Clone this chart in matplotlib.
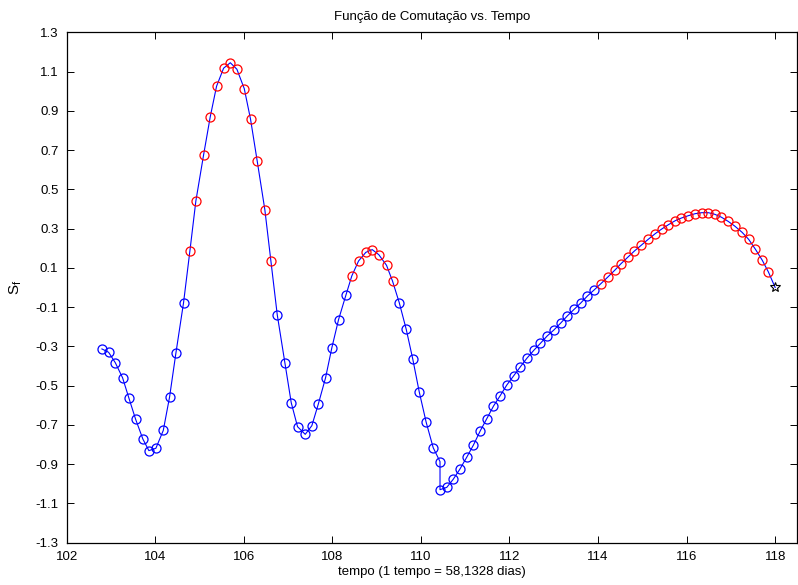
import numpy as np
import matplotlib
matplotlib.use("Agg")
import matplotlib.pyplot as plt

plt.rcParams["font.family"] = ["Liberation Sans", "DejaVu Sans"]

# switching function samples S_f(t)
tempo = [
    102.795, 102.946, 103.097, 103.262, 103.404, 103.556, 103.720, 103.856,
    104.014, 104.181, 104.323, 104.466, 104.639, 104.782, 104.917, 105.091,
    105.242, 105.384, 105.543, 105.694, 105.843, 106.010, 106.152, 106.303,
    106.475, 106.611, 106.755, 106.927, 107.071, 107.213, 107.387, 107.536,
    107.681, 107.846, 107.988, 108.139, 108.304, 108.439, 108.591, 108.755,
    108.900, 109.049, 109.223, 109.358, 109.510, 109.668, 109.817, 109.961,
    110.119, 110.277, 110.431, 110.431, 110.584, 110.729, 110.878, 111.036,
    111.187, 111.338, 111.481, 111.639, 111.790, 111.939, 112.097, 112.242,
    112.391, 112.549, 112.700, 112.851, 113.000, 113.158, 113.309, 113.461,
    113.610, 113.761, 113.919, 114.066, 114.224, 114.378, 114.513, 114.671,
    114.822, 114.980, 115.131, 115.290, 115.439, 115.590, 115.741, 115.884,
    116.042, 116.193, 116.342, 116.493, 116.635, 116.787, 116.938, 117.087,
    117.254, 117.403, 117.554, 117.706, 117.848,
]
sf = [
    -0.313, -0.330, -0.383, -0.460, -0.563, -0.671, -0.772, -0.831,
    -0.819, -0.728, -0.558, -0.334, -0.077, 0.186, 0.441, 0.675,
    0.870, 1.025, 1.117, 1.145, 1.112, 1.013, 0.857, 0.643,
    0.396, 0.136, -0.139, -0.383, -0.587, -0.709, -0.748, -0.704,
    -0.595, -0.460, -0.307, -0.164, -0.040, 0.059, 0.135, 0.179,
    0.193, 0.167, 0.113, 0.033, -0.077, -0.213, -0.366, -0.531,
    -0.687, -0.816, -0.887, -1.030, -1.018, -0.977, -0.926, -0.864,
    -0.802, -0.731, -0.671, -0.604, -0.551, -0.497, -0.449, -0.405,
    -0.361, -0.320, -0.284, -0.247, -0.217, -0.181, -0.144, -0.111,
    -0.079, -0.043, -0.011, 0.020, 0.054, 0.088, 0.120, 0.154,
    0.186, 0.216, 0.245, 0.274, 0.298, 0.320, 0.340, 0.354,
    0.366, 0.376, 0.381, 0.381, 0.373, 0.358, 0.337, 0.313,
    0.281, 0.245, 0.195, 0.140, 0.079,
]
# final point (end of the trajectory)
t_final = 118.0
sf_final = 0.0

t = np.array(tempo)
s = np.array(sf)
pos = s > 0

fig = plt.figure(figsize=(7.98, 5.85), dpi=100)
ax = fig.add_axes([0.0836, 0.0723, 0.9155, 0.8725])

ax.plot(np.append(t, t_final), np.append(s, sf_final), color="#0000ff", lw=0.8)
ax.plot(t[~pos], s[~pos], "o", ls="none", ms=6.5, mfc="none", mec="#0000ff", mew=0.9)
ax.plot(t[pos], s[pos], "o", ls="none", ms=6.5, mfc="none", mec="#ff0000", mew=0.9)
ax.plot([t_final], [sf_final], "*", ms=7.5, mfc="none", mec="black", mew=0.8)

ax.set_xlim(102, 118.5)
ax.set_ylim(-1.3, 1.3)
ax.set_xticks(np.arange(102, 119, 2))
yt = np.arange(-1.3, 1.31, 0.2)
ax.set_yticks(yt)
ax.set_yticklabels([f"{v:.1f}" for v in yt])

ax.tick_params(direction="in", length=5, width=0.7, labelsize=9.5,
               top=True, right=True, pad=6)
for sp in ax.spines.values():
    sp.set_linewidth(0.9)

ax.set_title("Função de Comutação vs. Tempo", fontsize=9.5, pad=9)
ax.set_xlabel("tempo (1 tempo = 58,1328 dias)", fontsize=9.5, labelpad=2)
ax.set_ylabel(r"$\mathregular{S_f}$", fontsize=11, labelpad=8)

fig.savefig("out.png", dpi=100)
